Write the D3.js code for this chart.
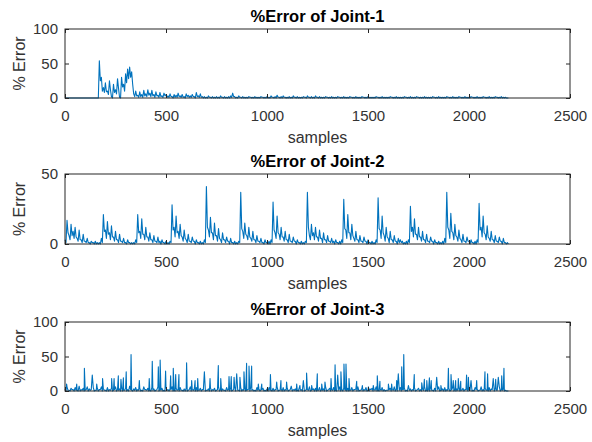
<html>
<head>
<meta charset="utf-8">
<title>%Error of joints</title>
<style type="text/css">
body { margin: 0; background: #fff; }
svg { font-family: "Liberation Sans", Arial, Helvetica, sans-serif; }
.box { fill: none; stroke: #262626; stroke-width: 1px; }
.axis path { display: none; }
.axis line { stroke: #262626; }
.axis text { fill: #333; font-size: 15px; }
.title { font-size: 16.5px; font-weight: bold; fill: #000; }
.label { font-size: 16px; fill: #333; }
.line { fill: none; stroke: #0072BD; stroke-width: 1.1px; stroke-linejoin: round; }
</style>
</head>
<body>
<script src="https://d3js.org/d3.v7.min.js"></script>
<script>
// "high" values sit at samples 0, 10, 20 ... 2190, "low" values at 5, 15, 25 ... 2195
var step = 10;

var xTicks = [0, 500, 1000, 1500, 2000, 2500];
var titles = ["%Error of Joint-1", "%Error of Joint-2", "%Error of Joint-3"];
var yMax = [100, 50, 100];
var yTicks = [[0, 50, 100], [0, 50], [0, 50, 100]];

// joint 1 error
var joint1 = [
	0,0,0,0,0,0,0,0,0,0,0,0,0,0,0,0,0,54,30,15,
	22,10,25,2,20,12,28,1,30,20,35,42,45,38,6,10,4,9,5,11,
	6,12,7,11,5,9,4,8,3,7,5,3,6,2,5,4,7,3,5,2,
	6,4,3,5,2,8,3,6,2,2,1,3,1,2,1,2,1,3,1,2,
	1,2,3,7,2,1,3,1,2,1,1,2,1,1,2,1,1,2,1,1,
	2,1,3,1,2,4,1,2,3,1,1,2,1,3,1,2,1,1,2,1,
	3,1,2,1,3,1,2,1,1,2,1,1,2,1,1,2,1,1,2,1,
	1,2,1,1,2,1,1,2,1,1,2,1,1,1,2,1,1,2,1,1,
	1,2,1,1,2,1,1,1,2,1,1,2,1,1,2,1,1,1,2,1,
	1,1,2,1,1,2,1,1,1,2,1,1,2,1,1,2,1,1,2,1,
	1,2,1,1,2,1,1,2,1,1,2,1,1,2,1,1,2,1,1,0
];
var joint1Low = [
	0,0,0,0,0,0,0,0,0,0,0,0,0,0,0,0,0,25,10,8,
	9,5,12,0,8,6,14,0,16,10,22,28,30,20,2,3,1,2,1,3,
	2,4,2,3,1,3,1,2,1,3,1,1,2,0,1,1,2,1,1,0,
	2,1,1,2,0,2,1,1,0,0,0,1,0,0,0,0,0,1,0,0,
	0,0,1,2,0,0,1,0,0,0,0,1,0,0,0,0,0,1,0,0,
	0,0,1,0,0,1,0,0,1,0,0,0,0,1,0,0,0,0,1,0,
	1,0,0,0,1,0,0,0,0,1,0,0,0,0,0,1,0,0,0,0,
	0,1,0,0,0,0,0,1,0,0,0,0,0,0,1,0,0,0,0,0,
	0,1,0,0,0,0,0,0,1,0,0,0,0,0,1,0,0,0,0,0,
	0,0,1,0,0,0,0,0,0,1,0,0,0,0,0,1,0,0,0,0,
	0,1,0,0,0,0,0,1,0,0,0,0,0,1,0,0,0,0,0,0
];

// joint 2 error, one row per cycle
var joint2 = [
	3,17,6,14,9,12,4,10,3,7,2,4,1,2,1,2,1,1,4,
	21,10,16,8,13,5,9,3,7,2,4,1,3,1,1,1,3,
	21,9,18,7,12,5,8,3,6,2,5,2,3,1,2,1,2,
	28,12,20,9,14,5,10,3,7,2,5,2,3,1,2,1,3,
	41,10,19,8,15,6,11,3,8,3,5,2,4,1,2,1,2,
	37,9,15,6,12,4,9,3,6,2,4,1,3,1,2,3,
	30,8,20,7,12,5,9,3,7,2,5,2,3,1,2,1,2,
	37,6,14,8,12,5,10,4,8,3,6,2,4,2,3,1,2,3,
	32,10,21,8,14,4,9,3,6,2,5,2,3,1,2,1,3,
	33,10,20,6,12,4,9,3,6,2,4,3,2,1,2,3,
	27,12,18,7,12,5,9,3,7,2,5,2,3,1,2,1,2,4,
	37,10,22,8,14,5,10,3,7,2,5,2,3,1,2,3,
	29,12,20,7,13,4,9,3,6,2,5,2,4,1,1
];
var joint2Low = [
	1,8,3,6,4,5,2,3,1,2,1,1,0,1,0,0,0,0,1,
	9,4,7,3,5,2,3,1,2,1,1,0,1,0,0,0,1,
	8,4,7,3,5,2,3,1,2,1,1,0,1,0,0,0,1,
	10,5,8,4,6,2,4,1,2,1,2,0,1,0,0,0,1,
	12,5,8,3,6,2,4,1,3,1,2,0,1,0,0,0,1,
	11,4,7,3,5,2,3,1,2,1,1,0,1,0,0,1,
	10,4,8,3,5,2,3,1,2,1,2,0,1,0,0,0,1,
	12,3,6,3,5,2,4,1,3,1,2,1,1,0,1,0,0,1,
	11,4,8,3,6,2,3,1,2,1,2,0,1,0,0,0,1,
	11,4,8,2,5,1,3,1,2,0,1,1,0,0,0,1,
	9,5,7,3,5,2,3,1,2,1,2,0,1,0,0,0,0,1,
	12,4,9,3,6,2,4,1,2,1,2,0,1,0,0,1,
	10,5,8,3,5,2,3,1,2,1,2,0,1,0,0
];

// joint 3 error: low level, plus single-sample spikes
var joint3 = [
	3,6,1,4,2,5,1,7,2,4,1,6,3,2,5,1,4,2,6,3,
	1,5,2,4,1,6,2,3,5,1,4,2,7,1,3,5,2,4,1,6,
	2,4,1,5,3,1,6,2,4,1,5,2,3,6,1,4,2,5,1,3,
	4,1,6,2,3,5,1,4,2,7,1,3,5,2,4,1,6,2,3,1,
	5,2,4,1,6,3,1,5,2,4,1,3,6,2,1,5,3,2,4,1,
	3,5,1,4,2,6,1,3,5,2,4,1,7,2,3,1,5,2,4,1,
	2,6,1,3,4,1,5,2,3,6,1,4,2,5,1,3,6,2,4,1,
	4,1,5,2,3,6,1,4,2,5,1,3,4,2,6,1,3,5,2,1,
	1,4,2,6,3,1,5,2,4,1,6,3,2,5,1,4,2,3,6,1,
	3,5,1,4,2,6,1,3,5,2,4,1,6,2,3,5,1,4,2,3,
	2,4,1,5,3,1,6,2,4,1,5,3,2,4,1,6,2,3,1,0
];
var joint3Low = [
	0,1,0,2,0,1,0,0,1,0,2,0,1,0,0,1,0,2,0,1,
	0,0,1,0,2,0,1,0,0,1,0,0,2,0,1,0,1,0,0,2,
	1,0,0,1,0,2,0,1,0,0,1,0,2,0,0,1,0,1,0,0,
	0,2,0,1,0,0,1,0,2,0,1,0,0,1,0,2,0,0,1,0,
	1,0,0,2,0,1,0,0,1,0,2,0,1,0,0,1,0,2,0,0,
	0,1,0,0,2,0,1,0,0,1,0,2,0,1,0,0,1,0,0,2,
	1,0,2,0,0,1,0,1,0,0,2,0,1,0,0,1,0,0,2,0,
	0,1,0,2,0,0,1,0,1,0,0,2,0,1,0,0,1,0,0,1,
	2,0,1,0,0,1,0,2,0,0,1,0,1,0,2,0,0,1,0,0,
	0,1,0,0,2,0,1,0,0,1,0,2,0,0,1,0,1,0,2,0,
	1,0,0,2,0,1,0,0,1,0,0,2,0,1,0,0,1,0,0,0
];
var joint3SpikeSample = [8,58,96,135,157,186,231,243,264,277,289,303,327,368,417,432,462,471,498,523,
	536,548,564,602,627,644,657,690,718,759,771,812,823,837,850,866,886,899,911,924,
	957,974,1017,1048,1069,1097,1147,1163,1180,1196,1221,1249,1271,1287,1317,1337,1350,1366,1381,1391,
	1406,1444,1472,1502,1526,1546,1559,1601,1617,1642,1650,1667,1677,1700,1729,1766,1779,1791,1804,1813,
	1840,1861,1898,1911,1922,1934,1947,1959,1988,1997,2010,2038,2079,2092,2120,2132,2145,2162,2173];
var joint3SpikeValue = [10,10,33,23,10,18,18,18,22,17,19,28,53,15,18,43,35,45,29,22,
	33,24,24,41,15,15,18,28,18,37,18,21,21,20,25,20,28,40,36,36,
	10,10,24,13,15,13,10,8,15,26,8,25,10,13,18,38,23,28,39,39,
	18,14,8,6,8,22,14,10,10,15,25,35,53,8,24,12,17,15,19,15,
	20,8,33,24,15,15,18,14,23,20,15,15,28,25,18,17,20,22,33];

// interleave the high and low values into [sample, value] points
function series(high, low) {
	var pts = [];
	high.forEach(function(v, i) {
		pts.push([i * step, v]);
		pts.push([i * step + step / 2, low[i]]);
	});
	return pts;
}
var spikeSet = new Set(joint3SpikeSample);
var joint3Pts = series(joint3, joint3Low)
	.filter(function(p) { return !spikeSet.has(p[0]); })
	.concat(joint3SpikeSample.map(function(s, i) { return [s, joint3SpikeValue[i]]; }))
	.sort(function(a, b) { return a[0] - b[0]; });

var data = [series(joint1, joint1Low), series(joint2, joint2Low), joint3Pts];

var W = 592, H = 442;
var left = 65, right = 570;
var tops = [29, 174, 322],
	bottoms = [98, 244, 391];

var svg = d3.select("body").append("svg")
	.attr("width", W)
	.attr("height", H);
svg.append("rect").attr("width", W).attr("height", H).attr("fill", "#fff");

var xs = d3.scaleLinear().domain([0, 2500]).range([left, right]);

function panel(k) {
	var ys = d3.scaleLinear().domain([0, yMax[k]]).range([bottoms[k], tops[k]]);
	var g = svg.append("g");

	g.append("path")
		.datum(data[k])
		.attr("class", "line")
		.attr("d", d3.line().x(function(d) { return xs(d[0]); }).y(function(d) { return ys(d[1]); }));

	g.append("g").attr("class", "axis")
		.attr("transform", "translate(0," + bottoms[k] + ")")
		.call(d3.axisBottom(xs).tickValues(xTicks).tickSize(-4).tickPadding(12).tickFormat(d3.format("d")));
	g.append("g").attr("class", "axis")
		.attr("transform", "translate(0," + tops[k] + ")")
		.call(d3.axisTop(xs).tickValues(xTicks).tickSize(-4).tickFormat(""));
	g.append("g").attr("class", "axis")
		.attr("transform", "translate(" + left + ",0)")
		.call(d3.axisLeft(ys).tickValues(yTicks[k]).tickSize(-4).tickPadding(7));
	g.append("g").attr("class", "axis")
		.attr("transform", "translate(" + right + ",0)")
		.call(d3.axisRight(ys).tickValues(yTicks[k]).tickSize(-4).tickFormat(""));

	g.append("rect").attr("class", "box")
		.attr("x", left).attr("y", tops[k])
		.attr("width", right - left).attr("height", bottoms[k] - tops[k]);

	g.append("text").attr("class", "title")
		.attr("x", (left + right) / 2).attr("y", tops[k] - 7.5)
		.attr("text-anchor", "middle")
		.text(titles[k]);
	g.append("text").attr("class", "label")
		.attr("x", (left + right) / 2).attr("y", bottoms[k] + 45)
		.attr("text-anchor", "middle")
		.text("samples");
	g.append("text").attr("class", "label")
		.attr("transform", "translate(25," + (tops[k] + bottoms[k]) / 2 + ") rotate(-90)")
		.attr("text-anchor", "middle")
		.text("% Error");
}

[0, 1, 2].forEach(panel);
</script>
</body>
</html>
